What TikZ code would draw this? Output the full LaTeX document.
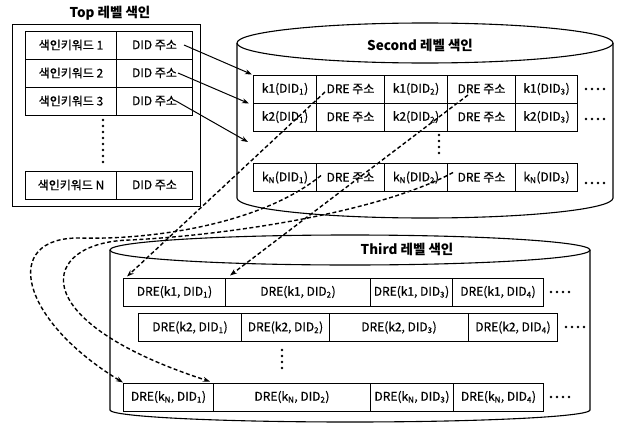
\documentclass[tikz,border=0pt]{standalone}
\usepackage{fontspec}
\setmainfont{Noto Sans CJK KR}
\newfontfamily\cellfont{Noto Sans CJK KR}[FakeBold=0.6]
\usepackage{tikz}
\usetikzlibrary{arrows.meta}

\begin{document}
\begin{tikzpicture}[x=1pt, y=-1pt]
  \tikzstyle{cell}=[draw, line width=1pt, minimum height=28pt,
    inner sep=0pt, anchor=west, font=\cellfont\fontsize{12}{14}\selectfont]
  \tikzstyle{ttl}=[font=\fontsize{13.5}{16}\selectfont\bfseries]
  \tikzstyle{wall}=[line width=1.1pt]
  \tikzstyle{ptr}=[-{Stealth[length=7pt,width=5pt]}, line width=1pt]
  \tikzstyle{link}=[-{Stealth[length=7pt,width=5pt]}, line width=1.4pt,
    dash pattern=on 4pt off 2.5pt]
  \tikzstyle{dotrow}=[line width=2.6pt, line cap=round,
    dash pattern=on 0pt off 6pt]

  \useasboundingbox (0,0) rectangle (618,423);

  % Top level
  \node[ttl] (toptitle) at (110,13) {Top 레벨 색인};
  \node[draw, line width=1pt, minimum width=188pt, minimum height=182pt]
    (topbox) at (106,115) {};
  \node[cell, minimum width=91pt] (k1) at (25,45)  {색인키워드 1};
  \node[cell, minimum width=76pt] (d1) at (116,45) {DID 주소};
  \node[cell, minimum width=91pt] (k2) at (25,73)  {색인키워드 2};
  \node[cell, minimum width=76pt] (d2) at (116,73) {DID 주소};
  \node[cell, minimum width=91pt] (k3) at (25,101) {색인키워드 3};
  \node[cell, minimum width=76pt] (d3) at (116,101) {DID 주소};
  \node[cell, minimum width=91pt] (kN) at (25,185) {색인키워드 N};
  \node[cell, minimum width=76pt] (dN) at (116,185) {DID 주소};
  \draw[dotrow] (103,120) -- (103,163);

  % Second level
  \draw[wall] (425,43) ellipse [x radius=188, y radius=20];
  \draw[wall] (237,43) -- (237,198)
    .. controls (237,209) and (321,218) .. (425,218)
    .. controls (529,218) and (613,209) .. (613,198) -- (613,43);
  \node[ttl] (sectitle) at (420,45) {Second 레벨 색인};

  \node[cell, minimum width=63pt] (s11) at (253,89) {k1(DID\textsubscript{1})};
  \node[cell, minimum width=68pt] (s12) at (316,89) {DRE 주소};
  \node[cell, minimum width=63pt] (s13) at (384,89) {k1(DID\textsubscript{2})};
  \node[cell, minimum width=68pt] (s14) at (447,89) {DRE 주소};
  \node[cell, minimum width=62pt] (s15) at (515,89) {k1(DID\textsubscript{3})};
  \node[cell, minimum width=63pt] (s21) at (253,117) {k2(DID\textsubscript{1})};
  \node[cell, minimum width=68pt] (s22) at (316,117) {DRE 주소};
  \node[cell, minimum width=63pt] (s23) at (384,117) {k2(DID\textsubscript{2})};
  \node[cell, minimum width=68pt] (s24) at (447,117) {DRE 주소};
  \node[cell, minimum width=62pt] (s25) at (515,117) {k2(DID\textsubscript{3})};
  \node[cell, minimum width=63pt] (sN1) at (253,177.5) {k\textsubscript{N}(DID\textsubscript{1})};
  \node[cell, minimum width=68pt] (sN2) at (316,177.5) {DRE 주소};
  \node[cell, minimum width=63pt] (sN3) at (384,177.5) {k\textsubscript{N}(DID\textsubscript{2})};
  \node[cell, minimum width=68pt] (sN4) at (447,177.5) {DRE 주소};
  \node[cell, minimum width=62pt] (sN5) at (515,177.5) {k\textsubscript{N}(DID\textsubscript{3})};
  \draw[dotrow] (586,89) -- (605,89);
  \draw[dotrow] (586,119) -- (605,119);
  \draw[dotrow] (586,183) -- (605,183);
  \draw[dotrow] (439,135) -- (439,154);
  \coordinate (sgap) at (248,142);

  % Third level
  \draw[wall] (350,250) ellipse [x radius=240, y radius=15];
  \draw[wall] (110,250) -- (110,410)
    .. controls (110,416.6) and (217,422) .. (350,422)
    .. controls (483,422) and (590,416.6) .. (590,410) -- (590,250);
  \node[ttl] (thdtitle) at (407,249) {Third 레벨 색인};

  \node[cell, minimum width=102pt] (r11) at (123,292) {DRE(k1, DID\textsubscript{1})};
  \node[cell, minimum width=145pt] (r12) at (225,292) {DRE(k1, DID\textsubscript{2})};
  \node[cell, minimum width=82pt]  (r13) at (370,292) {DRE(k1, DID\textsubscript{3})};
  \node[cell, minimum width=91pt]  (r14) at (452,292) {DRE(k1, DID\textsubscript{4})};
  \node[cell, minimum width=103pt] (r21) at (138,327.5) {DRE(k2, DID\textsubscript{1})};
  \node[cell, minimum width=88pt]  (r22) at (241,327.5) {DRE(k2, DID\textsubscript{2})};
  \node[cell, minimum width=139pt] (r23) at (329,327.5) {DRE(k2, DID\textsubscript{3})};
  \node[cell, minimum width=89pt]  (r24) at (468,327.5) {DRE(k2, DID\textsubscript{4})};
  \node[cell, minimum width=90pt]  (rN1) at (123,397) {DRE(k\textsubscript{N}, DID\textsubscript{1})};
  \node[cell, minimum width=157pt] (rN2) at (213,397) {DRE(k\textsubscript{N}, DID\textsubscript{2})};
  \node[cell, minimum width=83pt]  (rN3) at (370,397) {DRE(k\textsubscript{N}, DID\textsubscript{3})};
  \node[cell, minimum width=90pt]  (rN4) at (453,397) {DRE(k\textsubscript{N}, DID\textsubscript{4})};
  \draw[dotrow] (551,292) -- (570,292);
  \draw[dotrow] (566,327) -- (585,327);
  \draw[dotrow] (551,397) -- (570,397);
  \draw[dotrow] (282,350) -- (282,372);

  % pointers
  \draw[ptr] ([xshift=-9pt]d1.east) -- ([xshift=-1pt]s11.north west);
  \draw[ptr] ([xshift=-15pt]d2.east) -- ([xshift=-4pt,yshift=-1pt]s21.north west);
  \draw[ptr] ([xshift=-17pt]d3.east) -- (sgap);

  \draw[link] ([xshift=9pt,yshift=-3pt]s12.west) -- ([xshift=4pt,yshift=1pt]r11.north west);
  \draw[link] ([xshift=21pt,yshift=-6pt]s14.west) -- ([xshift=5pt,yshift=2pt]r12.north west);
  \draw[link] ([xshift=5pt,yshift=2pt]sN2.west)
    .. controls (260,225) and (150,240) .. (80,238)
    .. controls (0,237) and (20,320) .. (rN1.north west);
  \draw[link] ([xshift=6pt,yshift=5pt]sN4.west)
    .. controls (380,212) and (230,235) .. (130,240)
    .. controls (40,242) and (20,320) .. ([xshift=-3pt,yshift=1pt]rN2.north west);
\end{tikzpicture}
\end{document}
